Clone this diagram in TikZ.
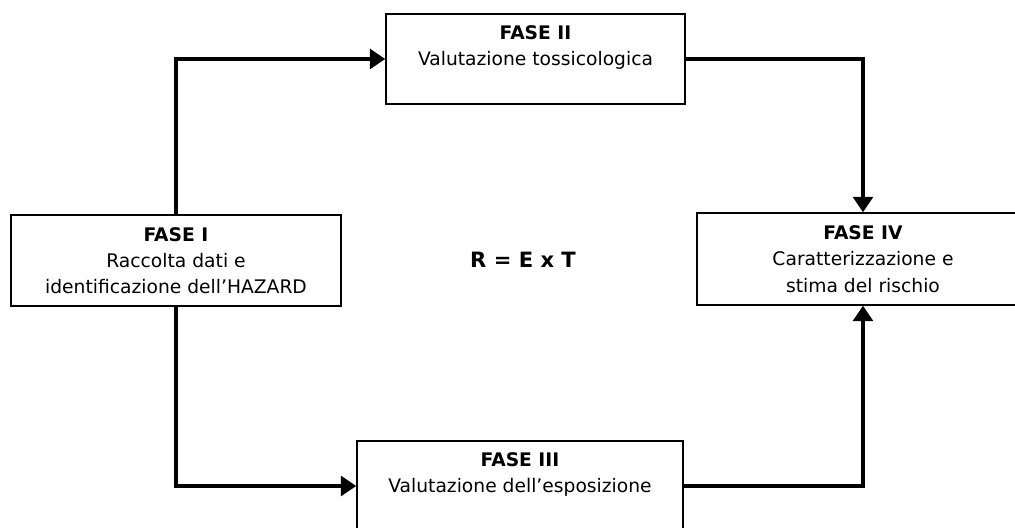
\documentclass[tikz,border=0pt]{standalone}
\usepackage{fontspec}
\setmainfont{DejaVu Sans}
\usetikzlibrary{arrows.meta}

\begin{document}
\begin{tikzpicture}[
  fase/.style={draw, line width=1pt, align=center, inner sep=0pt,
    font=\fontsize{13.3}{18.7}\selectfont},
  flow/.style={line width=2.8pt, -{Triangle[width=14pt,length=11pt]}}
]
\useasboundingbox (0,0) rectangle (25.375,13.2);

% Phase boxes
\node[fase, minimum width=8.25cm, minimum height=2.275cm] (fase1) at (4.4,6.6875)
  {\textbf{FASE I}\\Raccolta dati e\\identificazione dell’HAZARD};
\node[fase, minimum width=7.475cm, minimum height=2.25cm] (fase2) at (13.3875,11.725)
  {\textbf{FASE II}\\Valutazione tossicologica\\~};
\node[fase, minimum width=8.15cm, minimum height=2.25cm] (fase3) at (13.0,1.05)
  {\textbf{FASE III}\\Valutazione dell’esposizione\\~};
\node[fase, minimum width=8.3cm, minimum height=2.3cm] (fase4) at (21.575,6.725)
  {\textbf{FASE IV}\\Caratterizzazione e\\stima del rischio};

% Risk formula
\node[font=\bfseries\fontsize{15}{18}\selectfont] (formula) at (13.075,6.7125) {R = E x T};

% Flow between phases
\draw[flow] (fase1.north) |- (fase2.west);
\draw[flow] (fase2.east) -| (fase4.north);
\draw[flow] (fase1.south) |- (fase3.west);
\draw[flow] (fase3.east) -| (fase4.south);
\end{tikzpicture}
\end{document}
